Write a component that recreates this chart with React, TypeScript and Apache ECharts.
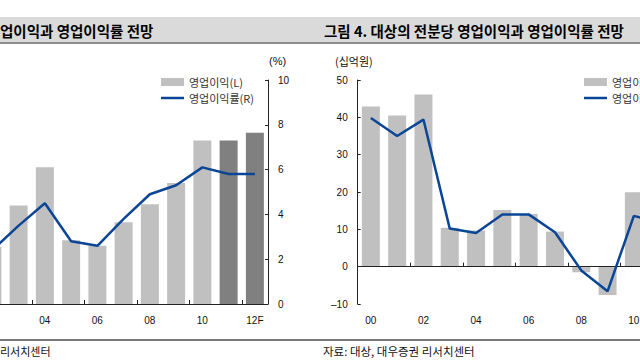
import React, { useEffect, useRef } from "react";
import * as echarts from "echarts";

// Left panel: company operating income (bars, 십억원) and margin (line, %)
const leftYears = ["02", "03", "04", "05", "06", "07", "08", "09", "10", "11", "12F"];
const leftIncome = [51, 88, 122, 57, 52, 73, 89, 108, 146, 146, 153];
const leftForecast = [false, false, false, false, false, false, false, false, false, true, true];
const leftMargin = [2.4, 3.5, 4.5, 2.8, 2.6, 3.8, 4.9, 5.3, 6.1, 5.8, 5.8];
const leftMarginTicks = { min: 0, max: 10, interval: 2 };

// Right panel: starch-sugar division operating income (bars, 십억원) and margin (line, %)
const rightYears = ["00", "01", "02", "03", "04", "05", "06", "07", "08", "09", "10", "11", "12F"];
const rightIncome = [42.9, 40.5, 46.1, 10.4, 9.7, 15.2, 14.1, 9.4, -1.5, -7.6, 19.9, null, null];
const rightMargin = [19.9, 17.5, 19.7, 5.1, 4.5, 7.0, 7.0, 4.6, -0.5, -3.3, 6.8, 5.9, null];
const rightIncomeTicks = { min: -10, max: 50, interval: 10 };

const BAR_NAME = "영업이익(L)";
const LINE_NAME = "영업이익률(R)";
const FONT = "'Liberation Sans', 'Noto Sans CJK KR', sans-serif";
const KFONT = "'Noto Sans CJK KR', 'Liberation Sans', sans-serif";
const LIGHT = "#c0c0c0";
const DARK = "#808080";
const BLUE = "#0b4596";
const AXIS = "#222";

export default function App() {
  const ref = useRef<HTMLDivElement>(null);
  useEffect(() => {
    if (!ref.current) return;
    const chart = echarts.init(ref.current, undefined, { renderer: "svg" });
    const cat = 26.25;
    const leftAxisX = 268;
    const rightAxisX = 357.7;
    const evenTick = (i: number) => i % 2 === 0;
    const legendData = [
      { name: BAR_NAME, icon: "rect" },
      { name: LINE_NAME, icon: "path://M0,0L23,0L23,2.5L0,2.5Z" },
    ];
    const legendBase = {
      data: legendData,
      orient: "vertical",
      top: 76,
      itemWidth: 23,
      itemHeight: 8,
      itemGap: 4,
      padding: 0,
      selectedMode: false,
      textStyle: { fontSize: 11, color: "#333", fontFamily: KFONT, lineHeight: 12 },
    };
    const option: any = {
      animation: false,
      textStyle: { fontFamily: FONT },
      grid: [
        {
          left: leftAxisX - cat * leftYears.length,
          width: cat * leftYears.length,
          top: 80,
          height: 224,
          outerBoundsMode: "none",
          containLabel: false,
        },
        {
          left: rightAxisX,
          width: 26.3 * rightYears.length,
          top: 80,
          height: 224,
          outerBoundsMode: "none",
          containLabel: false,
        },
      ],
      legend: [
        { ...legendBase, left: 161 },
        { ...legendBase, left: 584 },
      ],
      xAxis: [
        {
          type: "category",
          gridIndex: 0,
          data: leftYears,
          position: "bottom",
          axisLine: { show: true, lineStyle: { color: AXIS, width: 1 } },
          axisTick: { show: true, inside: true, length: 4, interval: evenTick, lineStyle: { color: AXIS } },
          axisLabel: {
            interval: (i: number) => i % 2 === 0 && i > 0,
            margin: 11,
            fontSize: 10,
            color: "#111",
            fontFamily: FONT,
          },
          splitLine: { show: false },
        },
        {
          type: "category",
          gridIndex: 1,
          data: rightYears,
          position: "bottom",
          axisLine: { show: false, onZero: false },
          axisTick: { show: false },
          axisLabel: { interval: 1, margin: 11, fontSize: 10, color: "#111", fontFamily: FONT },
          splitLine: { show: false },
        },
        {
          type: "category",
          gridIndex: 1,
          data: rightYears,
          position: "bottom",
          z: 3,
          axisLine: { show: true, onZero: true, lineStyle: { color: AXIS, width: 1 } },
          axisTick: { show: true, inside: true, length: 4, interval: evenTick, lineStyle: { color: AXIS } },
          axisLabel: { show: false },
          splitLine: { show: false },
        },
      ],
      yAxis: [
        { type: "value", gridIndex: 0, show: false, min: 0, max: 200, splitLine: { show: false } },
        {
          type: "value",
          gridIndex: 0,
          position: "right",
          min: leftMarginTicks.min,
          max: leftMarginTicks.max,
          interval: leftMarginTicks.interval,
          axisLine: { show: true, lineStyle: { color: AXIS, width: 1 } },
          axisTick: { show: true, inside: true, length: 3, lineStyle: { color: AXIS } },
          axisLabel: { margin: 10, fontSize: 10, color: "#111", fontFamily: FONT },
          splitLine: { show: false },
        },
        {
          type: "value",
          gridIndex: 1,
          position: "left",
          min: rightIncomeTicks.min,
          max: rightIncomeTicks.max,
          interval: rightIncomeTicks.interval,
          axisLine: { show: true, onZero: false, lineStyle: { color: AXIS, width: 1 } },
          axisTick: { show: true, inside: true, length: 3, lineStyle: { color: AXIS } },
          axisLabel: {
            margin: 10,
            fontSize: 10,
            color: "#111",
            fontFamily: FONT,
            formatter: (v: number) => (v < 0 ? "\u2013" + Math.abs(v) : String(v)),
          },
          splitLine: { show: false },
        },
        { type: "value", gridIndex: 1, show: false, min: -5, max: 25, splitLine: { show: false } },
      ],
      series: [
        {
          name: BAR_NAME,
          type: "bar",
          xAxisIndex: 0,
          yAxisIndex: 0,
          barWidth: 18,
          itemStyle: { color: LIGHT },
          data: leftIncome.map((v, i) => ({
            value: v,
            itemStyle: { color: leftForecast[i] ? DARK : LIGHT },
          })),
        },
        {
          name: LINE_NAME,
          type: "line",
          xAxisIndex: 0,
          yAxisIndex: 1,
          symbol: "none",
          lineStyle: { color: BLUE, width: 2.5 },
          itemStyle: { color: BLUE },
          data: leftMargin,
        },
        {
          name: BAR_NAME,
          type: "bar",
          xAxisIndex: 1,
          yAxisIndex: 2,
          barWidth: 18,
          itemStyle: { color: LIGHT },
          data: rightIncome,
        },
        {
          name: LINE_NAME,
          type: "line",
          xAxisIndex: 1,
          yAxisIndex: 3,
          symbol: "none",
          lineStyle: { color: BLUE, width: 2.5 },
          itemStyle: { color: BLUE },
          data: rightMargin,
        },
      ],
      graphic: [
        { type: "rect", z: 0, shape: { x: 0, y: 17, width: 640, height: 26 }, style: { fill: "#dadada" } },
        { type: "line", z: 1, shape: { x1: 0, y1: 43, x2: 640, y2: 43 }, style: { stroke: "#8c8c8c", lineWidth: 2 } },
        {
          type: "text",
          z: 2,
          x: 0,
          y: 30,
          style: {
            text: "업이익과 영업이익률 전망",
            fill: "#000",
            fontSize: 14.5,
            fontWeight: "bold",
            fontFamily: KFONT,
            verticalAlign: "middle",
          },
        },
        {
          type: "text",
          z: 2,
          x: 324,
          y: 30,
          style: {
            text: "그림 4. 대상의 전분당 영업이익과 영업이익률 전망",
            fill: "#000",
            fontSize: 14.5,
            fontWeight: "bold",
            fontFamily: KFONT,
            verticalAlign: "middle",
          },
        },
        {
          type: "text",
          x: 269,
          y: 61,
          style: { text: "(%)", fill: "#111", fontSize: 11, fontFamily: FONT, verticalAlign: "middle" },
        },
        {
          type: "text",
          x: 335,
          y: 61,
          style: { text: "(십억원)", fill: "#111", fontSize: 11, fontFamily: KFONT, verticalAlign: "middle" },
        },
        { type: "line", shape: { x1: 0, y1: 340, x2: 640, y2: 340 }, style: { stroke: "#7a7a7a", lineWidth: 2 } },
        {
          type: "text",
          x: 0,
          y: 351,
          style: { text: "리서치센터", fill: "#111", fontSize: 11, fontFamily: KFONT, verticalAlign: "middle" },
        },
        {
          type: "text",
          x: 323,
          y: 351,
          style: {
            text: "자료: 대상, 대우증권 리서치센터",
            fill: "#111",
            fontSize: 11.5,
            fontFamily: KFONT,
            verticalAlign: "middle",
          },
        },
      ],
    };
    chart.setOption(option);
    return () => chart.dispose();
  }, []);
  return (
    <div
      ref={ref}
      style={{ position: "fixed", left: 0, top: 0, width: 640, height: 360, background: "#fff" }}
    />
  );
}
